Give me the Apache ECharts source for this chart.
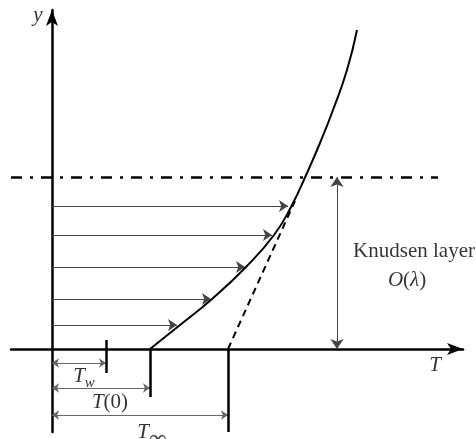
<!DOCTYPE html>
<html>
<head>
<meta charset="utf-8">
<script src="https://cdn.jsdelivr.net/npm/echarts@6/dist/echarts.min.js"></script>
<style>
  html, body { margin: 0; padding: 0; background: #fff; }
  #chart { width: 476px; height: 439px; }
</style>
</head>
<body>
<div id="chart"></div>
<script>
// temperature profile T(y) (real curve), units roughly px from origin
const profileT = [98, 128, 160, 194, 222, 239, 255, 268, 281, 295, 305]
const profileY = [0, 24, 50, 82, 114, 142, 176, 206, 239, 279, 319]

// extrapolated outer solution (dashed)
const outerT = [176, 243]
const outerY = [0, 148]

// arrows drawn from the wall to the curve
const arrowY = [24, 50, 82, 114, 143]
const arrowT = [125, 159, 193, 220, 236]

// temperatures on the T axis
const Tw = 54
const T0 = 98
const Tinf = 176
const knudsenY = 172
const knudsenArrowT = 285

const serif = '"Liberation Serif", "DejaVu Serif", serif'

const chart = echarts.init(document.getElementById('chart'))

const pairs = (xs, ys) => xs.map((x, i) => [x, ys[i]])

const seg = (a, b) => ({ coords: [a, b] })

const option = {
  animation: false,
  backgroundColor: '#fff',
  grid: { left: 11, right: 13, top: 10, bottom: 7 },
  xAxis: {
    type: 'value',
    min: -41,
    max: 411,
    axisLine: {
      show: true,
      onZero: true,
      symbol: ['none', 'arrow'],
      symbolSize: [9, 16],
      lineStyle: { color: '#000', width: 2.5 }
    },
    axisTick: { show: false },
    axisLabel: { show: false },
    splitLine: { show: false }
  },
  yAxis: {
    type: 'value',
    min: -83,
    max: 339,
    axisLine: {
      show: true,
      onZero: true,
      symbol: ['none', 'arrow'],
      symbolSize: [9, 16],
      lineStyle: { color: '#000', width: 2.5 }
    },
    axisTick: { show: false },
    axisLabel: { show: false },
    splitLine: { show: false }
  },
  series: [
    {
      // edge of Knudsen layer
      type: 'lines',
      coordinateSystem: 'cartesian2d',
      silent: true,
      lineStyle: { color: '#000', width: 2.5, type: [11, 8, 3, 8], opacity: 1 },
      data: [seg([-41, knudsenY], [386, knudsenY])]
    },
    {
      type: 'line',
      data: pairs(profileT, profileY),
      smooth: 0.5,
      showSymbol: false,
      lineStyle: { color: '#000', width: 2 }
    },
    {
      type: 'line',
      data: pairs(outerT, outerY),
      showSymbol: false,
      lineStyle: { color: '#000', width: 2, type: [7, 5] }
    },
    {
      // profile arrows
      type: 'lines',
      coordinateSystem: 'cartesian2d',
      silent: true,
      symbol: ['none', 'arrow'],
      symbolSize: 9,
      lineStyle: { color: '#444', width: 1, opacity: 1 },
      data: arrowY.map((y, i) => seg([0, y], [arrowT[i], y]))
    },
    {
      // dimension arrows under the axis
      type: 'lines',
      coordinateSystem: 'cartesian2d',
      silent: true,
      symbol: ['arrow', 'arrow'],
      symbolSize: 7,
      lineStyle: { color: '#666', width: 1, opacity: 1 },
      data: [
        seg([0, -14], [Tw, -14]),
        seg([0, -39], [T0, -39]),
        seg([0, -66], [Tinf, -66])
      ]
    },
    {
      // Knudsen layer thickness
      type: 'lines',
      coordinateSystem: 'cartesian2d',
      silent: true,
      symbol: ['arrow', 'arrow'],
      symbolSize: 10,
      lineStyle: { color: '#444', width: 1, opacity: 1 },
      data: [seg([knudsenArrowT, 0], [knudsenArrowT, knudsenY])]
    },
    {
      // tick marks for Tw, T(0), Tinf
      type: 'lines',
      coordinateSystem: 'cartesian2d',
      silent: true,
      lineStyle: { color: '#000', width: 2.5, opacity: 1 },
      data: [
        seg([Tw, 9], [Tw, -24]),
        seg([T0, 0], [T0, -48]),
        seg([Tinf, 0], [Tinf, -83])
      ]
    },
    {
      type: 'scatter',
      symbolSize: 0,
      clip: false,
      silent: true,
      label: {
        show: true,
        position: 'inside',
        color: '#000',
        fontFamily: serif,
        formatter: p => p.data.text,
        rich: {
          i: { fontFamily: serif, fontStyle: 'italic', fontSize: 21, color: '#000' },
          r: { fontFamily: serif, fontSize: 21, color: '#000' },
          sub: { fontFamily: serif, fontStyle: 'italic', fontSize: 15, color: '#000', padding: [14, 0, 0, 0] },
          inf: { fontFamily: serif, fontSize: 25, color: '#000', padding: [16, 0, 0, 0] }
        }
      },
      data: [
        { value: [-14, 334], text: '{i|y}' },
        { value: [383, -16], text: '{i|T}' },
        { value: [32, -27], text: '{i|T}{sub|w}' },
        { value: [58, -53], text: '{i|T}{r|(0)}' },
        { value: [100, -83], text: '{i|T}{inf|∞}' },
        { value: [362, 98], text: '{r|Knudsen layer}' },
        { value: [355, 69], text: '{i|O}{r|(}{i|λ}{r|)}' }
      ]
    }
  ]
}

chart.setOption(option)
</script>
</body>
</html>
